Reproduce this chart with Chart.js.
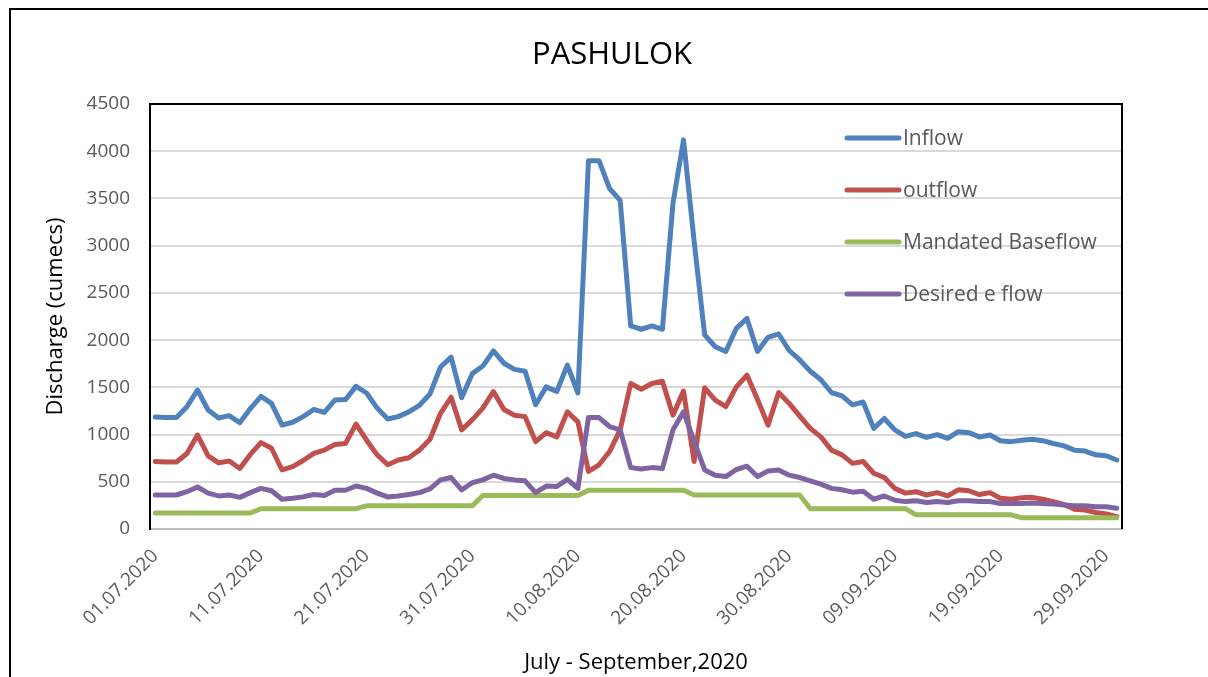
<!DOCTYPE html>
<html>
<head>
<meta charset="utf-8">
<script src="https://cdn.jsdelivr.net/npm/chart.js@4.4.1/dist/chart.umd.min.js"></script>
<style>
  html, body { margin: 0; padding: 0; background: #ffffff; }
  #wrap { width: 1208px; height: 677px; position: relative; }
</style>
</head>
<body>
<div id="wrap"><canvas id="c" width="1208" height="677"></canvas></div>
<script>
const categories = [
  "01.07.2020","02.07.2020","03.07.2020","04.07.2020","05.07.2020","06.07.2020","07.07.2020","08.07.2020","09.07.2020","10.07.2020",
  "11.07.2020","12.07.2020","13.07.2020","14.07.2020","15.07.2020","16.07.2020","17.07.2020","18.07.2020","19.07.2020","20.07.2020",
  "21.07.2020","22.07.2020","23.07.2020","24.07.2020","25.07.2020","26.07.2020","27.07.2020","28.07.2020","29.07.2020","30.07.2020",
  "31.07.2020","01.08.2020","02.08.2020","03.08.2020","04.08.2020","05.08.2020","06.08.2020","07.08.2020","08.08.2020","09.08.2020",
  "10.08.2020","11.08.2020","12.08.2020","13.08.2020","14.08.2020","15.08.2020","16.08.2020","17.08.2020","18.08.2020","19.08.2020",
  "20.08.2020","21.08.2020","22.08.2020","23.08.2020","24.08.2020","25.08.2020","26.08.2020","27.08.2020","28.08.2020","29.08.2020",
  "30.08.2020","31.08.2020","01.09.2020","02.09.2020","03.09.2020","04.09.2020","05.09.2020","06.09.2020","07.09.2020","08.09.2020",
  "09.09.2020","10.09.2020","11.09.2020","12.09.2020","13.09.2020","14.09.2020","15.09.2020","16.09.2020","17.09.2020","18.09.2020",
  "19.09.2020","20.09.2020","21.09.2020","22.09.2020","23.09.2020","24.09.2020","25.09.2020","26.09.2020","27.09.2020","28.09.2020",
  "29.09.2020","30.09.2020"
];
const shownTickLabels = ["01.07.2020","11.07.2020","21.07.2020","31.07.2020","10.08.2020","20.08.2020","30.08.2020","09.09.2020","19.09.2020","29.09.2020"];

const inflow = [
  1185,1180,1180,1295,1470,1260,1175,1200,1125,1275,
  1405,1330,1100,1130,1190,1265,1235,1365,1370,1510,
  1440,1280,1165,1190,1240,1310,1430,1715,1820,1390,
  1645,1725,1885,1755,1690,1670,1315,1505,1455,1735,
  1440,3900,3900,3605,3480,2150,2115,2150,2115,3450,
  4120,3050,2055,1930,1880,2125,2230,1880,2030,2065,
  1890,1790,1670,1580,1445,1410,1315,1345,1065,1170,
  1050,980,1010,970,1000,960,1030,1020,975,995,
  935,925,940,950,935,905,880,835,825,785,
  775,730
];
const outflow = [
  715,710,710,800,995,775,700,720,640,790,
  915,855,625,660,725,800,835,895,905,1110,
  940,785,680,730,755,835,950,1225,1395,1050,
  1155,1280,1455,1265,1205,1190,925,1020,975,1240,
  1135,610,680,820,1050,1540,1480,1540,1565,1205,
  1460,715,1495,1365,1295,1505,1630,1370,1100,1445,
  1330,1195,1065,975,835,785,695,715,590,545,
  430,380,395,360,385,350,415,405,365,385,
  325,315,330,335,315,290,260,210,200,175,
  160,130
];
const mandatedBaseflow = [
  170,170,170,170,170,170,170,170,170,170,
  215,215,215,215,215,215,215,215,215,215,
  245,245,245,245,245,245,245,245,245,245,
  245,355,355,355,355,355,355,355,355,355,
  355,410,410,410,410,410,410,410,410,410,
  410,360,360,360,360,360,360,360,360,360,
  360,360,215,215,215,215,215,215,215,215,
  215,215,150,150,150,150,150,150,150,150,
  150,150,120,120,120,120,120,120,120,120,
  120,120
];
const desiredEflow = [
  360,360,360,395,445,380,350,360,335,385,
  430,405,315,325,340,365,355,410,410,455,
  430,380,340,350,365,385,425,520,545,415,
  490,520,570,535,520,510,385,455,450,525,
  430,1180,1180,1085,1050,650,635,650,640,1050,
  1240,930,625,570,555,630,665,555,615,625,
  570,545,510,475,430,415,390,400,315,350,
  305,290,300,280,290,280,300,300,290,290,
  270,270,270,275,270,265,255,245,245,235,
  235,220
];
const seriesNames = ["Inflow", "outflow", "Mandated Baseflow", "Desired e flow"];
const seriesColors = ["#4F81BD", "#C0504D", "#9BBB59", "#8064A2"];
const yTicks = [0, 500, 1000, 1500, 2000, 2500, 3000, 3500, 4000, 4500];
const chartTitle = "PASHULOK";

Chart.defaults.font.family = "'Open Sans', 'Noto Sans', sans-serif";

const framePlugin = {
  id: 'frame',
  beforeDraw(chart) {
    const ctx = chart.ctx;
    ctx.save();
    ctx.fillStyle = '#ffffff';
    ctx.fillRect(0, 0, chart.width, chart.height);
    ctx.restore();
  },
  afterDraw(chart) {
    const ctx = chart.ctx;
    const a = chart.chartArea;
    ctx.save();
    ctx.strokeStyle = '#000000';
    ctx.lineWidth = 2;
    ctx.beginPath();
    ctx.moveTo(10, 677);
    ctx.lineTo(10, 9);
    ctx.lineTo(1208, 9);
    ctx.stroke();
    ctx.beginPath();
    ctx.moveTo(a.left, a.top);
    ctx.lineTo(a.right, a.top);
    ctx.lineTo(a.right, a.bottom);
    ctx.stroke();
    // title
    ctx.fillStyle = '#000000';
    ctx.font = "31px 'Open Sans', 'Noto Sans', sans-serif";
    ctx.textAlign = 'center';
    ctx.textBaseline = 'middle';
    ctx.fillText(chartTitle, 612, 55);
    // legend
    const rows = [138, 190, 242, 294];
    ctx.font = "21px 'Open Sans', 'Noto Sans', sans-serif";
    ctx.textBaseline = 'middle';
    ctx.textAlign = 'left';
    for (let i = 0; i < seriesNames.length; i++) {
      ctx.strokeStyle = seriesColors[i];
      ctx.lineWidth = 5;
      ctx.lineCap = 'round';
      ctx.beginPath();
      ctx.moveTo(847, rows[i]);
      ctx.lineTo(899, rows[i]);
      ctx.stroke();
      ctx.fillStyle = '#595959';
      ctx.fillText(seriesNames[i], 903, rows[i] + 1);
    }
    ctx.restore();
  }
};

const seriesData = [inflow, outflow, mandatedBaseflow, desiredEflow];
const datasets = seriesNames.map((name, i) => ({
  label: name,
  data: seriesData[i],
  borderColor: seriesColors[i],
  backgroundColor: seriesColors[i],
  borderWidth: 5,
  pointRadius: 0,
  tension: 0,
  fill: false,
  borderJoinStyle: 'round',
  borderCapStyle: 'round',
  order: seriesNames.length - i
}));

new Chart(document.getElementById('c'), {
  type: 'line',
  data: { labels: categories, datasets },
  plugins: [framePlugin],
  options: {
    responsive: false,
    animation: false,
    devicePixelRatio: 1,
    layout: { padding: { left: 10, right: 86, top: 104, bottom: 0 } },
    plugins: {
      legend: { display: false },
      tooltip: { enabled: false },
      title: { display: false }
    },
    scales: {
      x: {
        type: 'category',
        offset: true,
        grid: { display: false, drawTicks: false },
        border: { display: true, color: '#BFBFBF', width: 2 },
        ticks: {
          autoSkip: false,
          minRotation: 45,
          maxRotation: 45,
          padding: 16,
          color: '#595959',
          font: { size: 19 },
          callback: function(value, index) {
            const lab = categories[index];
            return shownTickLabels.includes(lab) ? lab : '';
          }
        },
        title: {
          display: true,
          text: 'July - September,2020',
          color: '#000000',
          font: { size: 22 },
          padding: { top: 0, bottom: 1 }
        },
        afterFit: (s) => { s.height = 148; }
      },
      y: {
        min: 0,
        max: 4500,
        afterBuildTicks: (s) => { s.ticks = yTicks.map(v => ({ value: v })); },
        grid: { color: '#D9D9D9', lineWidth: 2, drawTicks: false },
        border: { display: true, color: '#000000', width: 2 },
        ticks: {
          color: '#595959',
          font: { size: 19 },
          padding: 20,
          callback: (v) => String(v)
        },
        title: {
          display: true,
          text: 'Discharge (cumecs)',
          color: '#000000',
          font: { size: 22 },
          padding: { top: 33, bottom: 0 }
        },
        afterFit: (s) => { s.width = 140; }
      }
    }
  }
});
</script>
</body>
</html>
